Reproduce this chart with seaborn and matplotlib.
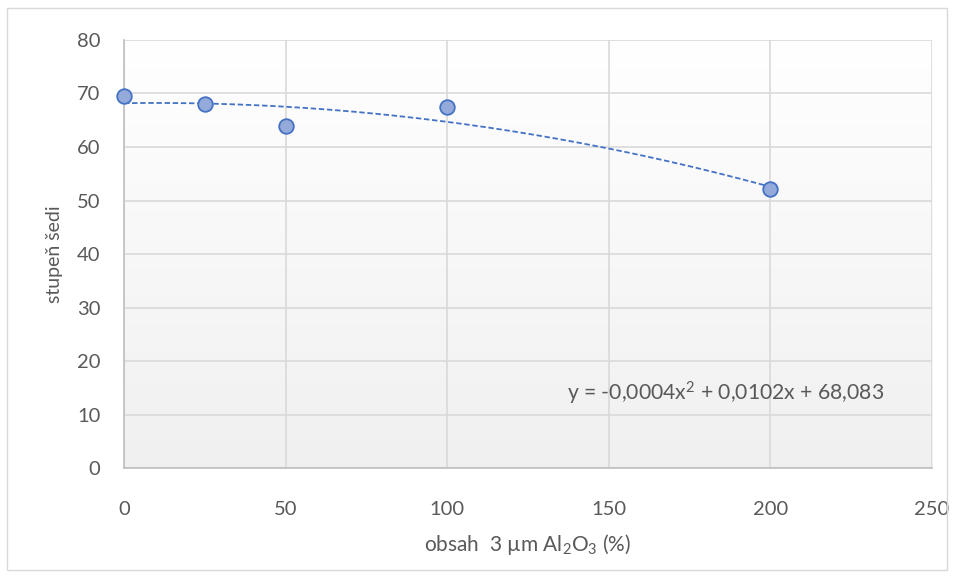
import numpy as np
import pandas as pd
import matplotlib.pyplot as plt
import seaborn as sns
from matplotlib.patches import Rectangle

# data
obsah = [0, 25, 50, 100, 200]
stupen_sedi = [69.6, 68.0, 64.0, 67.4, 52.1]
xticks = [0, 50, 100, 150, 200, 250]
yticks = [0, 10, 20, 30, 40, 50, 60, 70, 80]
rovnice = "y = -0,0004x$^2$ + 0,0102x + 68,083"

df = pd.DataFrame({'obsah': obsah, 'sedi': stupen_sedi})

sns.set_theme(style="white")
plt.rcParams['font.family'] = ['Lato', 'DejaVu Sans']
plt.rcParams['mathtext.fontset'] = 'custom'
plt.rcParams['mathtext.rm'] = 'Lato'
plt.rcParams['mathtext.it'] = 'Lato'
txt = '#595959'

fig = plt.figure(figsize=(9.55, 5.78), dpi=100)
ax = fig.add_axes([0.1298, 0.1903, 0.976 - 0.1298, 0.9308 - 0.1903])

# gradient background of the plot area
grad = np.linspace(0, 1, 256).reshape(-1, 1)
ax.imshow(grad, extent=[0, 250, 0, 80], aspect='auto', origin='upper',
          cmap=plt.matplotlib.colors.LinearSegmentedColormap.from_list('g', ['#ffffff', '#f0f0f0']),
          zorder=0)

# polynomial trendline (order 2) from the data
coef = np.polyfit(df['obsah'], df['sedi'], 2)
xs = np.linspace(0, 200, 200)
trend = pd.DataFrame({'x': xs, 'y': np.polyval(coef, xs)})
sns.lineplot(data=trend, x='x', y='y', ax=ax, color='#4472c4', lw=1.3,
             linestyle=(0, (3, 1.5)), zorder=3)

sns.scatterplot(data=df, x='obsah', y='sedi', ax=ax, s=110, color='#94aadb',
                edgecolor='#4472c4', linewidth=1.3, zorder=4, clip_on=False)

ax.set_xlim(0, 250)
ax.set_ylim(0, 80)
ax.set_xticks(xticks)
ax.set_yticks(yticks)
ax.grid(True, color='#d9d9d9', lw=1.2)
ax.set_axisbelow(True)
for s in ['top', 'right']:
    ax.spines[s].set_visible(False)
for s in ['left', 'bottom']:
    ax.spines[s].set_color('#bfbfbf')
    ax.spines[s].set_linewidth(1.2)
ax.tick_params(axis='y', labelsize=14.5, colors=txt, length=0, pad=17)
ax.tick_params(axis='x', labelsize=14.5, colors=txt, length=0, pad=24)

ax.set_xlabel(r"obsah  3 µm Al$_2$O$_3$ (%)", fontsize=15, color=txt, labelpad=10)
ax.set_ylabel("stupeň šedi", fontsize=14, color=txt, labelpad=10)

ax.text(137, 14, rovnice, fontsize=15.2, color=txt, va='center', ha='left')

# outer chart border
fig.patches.append(Rectangle((7 / 955, 8 / 578), 940 / 955, 562 / 578,
                             transform=fig.transFigure, fill=False,
                             edgecolor='#d9d9d9', lw=1))

plt.savefig("out.png", dpi=100)
